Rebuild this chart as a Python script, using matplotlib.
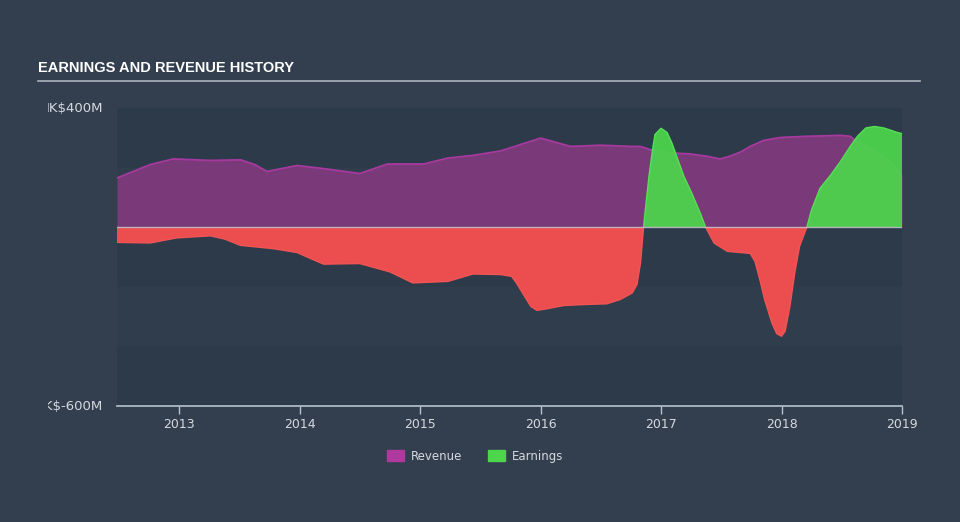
import numpy as np
import matplotlib
matplotlib.use("Agg")
import matplotlib.pyplot as plt
from matplotlib.transforms import Bbox

# values in millions, dates as decimal years
rev_t = [2012.485, 2012.76, 2012.95, 2013.26, 2013.51, 2013.63, 2013.73, 2013.98,
         2014.23, 2014.50, 2014.73, 2015.03, 2015.23, 2015.44, 2015.67, 2015.77,
         2016.00, 2016.25, 2016.50, 2016.75, 2016.83, 2016.91, 2017.08, 2017.24,
         2017.38, 2017.49, 2017.57, 2017.66, 2017.74, 2017.85, 2017.99, 2018.21,
         2018.49, 2018.57, 2018.61, 2018.77, 2018.88, 2019.00]
revenue = [165, 210, 229, 224, 226, 210, 187, 207,
           195, 180, 212, 212, 232, 241, 256, 269,
           299, 271, 275, 271, 271, 260, 249, 246,
           238, 229, 238, 252, 271, 291, 301, 305,
           308, 305, 291, 260, 227, 176]

earn_t = [2012.485, 2012.76, 2012.98, 2013.26, 2013.38, 2013.51, 2013.78, 2013.98,
          2014.09, 2014.20, 2014.50, 2014.75, 2014.94, 2015.23, 2015.44, 2015.67,
          2015.76, 2015.80, 2015.86, 2015.92, 2015.97, 2016.05, 2016.19, 2016.33,
          2016.55, 2016.66, 2016.76, 2016.80, 2016.83, 2016.855, 2016.87, 2016.90,
          2016.93, 2016.95, 2017.00, 2017.05, 2017.09, 2017.13, 2017.19, 2017.26,
          2017.33, 2017.37, 2017.44, 2017.55, 2017.74, 2017.78, 2017.82, 2017.86,
          2017.92, 2017.96, 2018.00, 2018.03, 2018.07, 2018.11, 2018.15, 2018.21,
          2018.25, 2018.32, 2018.41, 2018.49, 2018.57, 2018.63, 2018.70, 2018.77,
          2018.85, 2018.96, 2019.00]
earnings = [-51, -53, -36, -29, -40, -61, -72, -85,
            -105, -124, -122, -150, -187, -182, -157, -159,
            -165, -187, -227, -266, -279, -274, -263, -260,
            -257, -243, -221, -193, -120, 0, 59, 171,
            261, 311, 332, 318, 283, 238, 171, 110,
            43, 0, -53, -81, -88, -115, -176, -243,
            -321, -357, -366, -349, -265, -153, -64, 0,
            59, 131, 176, 221, 271, 305, 333, 338,
            333, 318, 314]

years = [2013, 2014, 2015, 2016, 2017, 2018, 2019]
y_labels = {400: "HK$400M", -600: "HK$-600M"}

bg = "#333f4f"
band_dark = "#2d3a4a"
rev_fill = "#7a3978"
rev_line = "#a8399f"
green = "#4cd64c"
red = "#ec4d4f"
text_col = "#d5d9de"

fig = plt.figure(figsize=(9.6, 5.22), dpi=100, facecolor=bg)
ax = fig.add_axes([117/960, 1-406/522, 785/960, 298/522])
ax.set_facecolor(bg)

ax.set_xlim(2012.485, 2019.0)
ax.set_ylim(-600, 400)

# background bands
for lo, hi in [(200, 400), (-200, 0), (-600, -400)]:
    ax.axhspan(lo, hi, color=band_dark, lw=0, zorder=0)
for lo, hi in [(0, 200), (-400, -200)]:
    ax.axhspan(lo, hi, color="#303d4d", lw=0, zorder=0)

# revenue
rt = np.array(rev_t)
rv = np.array(revenue)
ax.fill_between(rt, 0, rv, color=rev_fill, lw=0, zorder=2)
ax.plot(rt, rv, color=rev_line, lw=1.3, zorder=3)

# earnings
et = np.array(earn_t)
ev = np.array(earnings)
ax.fill_between(et, 0, ev, where=ev >= 0, interpolate=True, color=green, alpha=0.93, lw=0, zorder=4)
ax.fill_between(et, 0, ev, where=ev <= 0, interpolate=True, color=red, lw=0, zorder=4)
ax.plot(et, np.where(ev >= 0, ev, np.nan), color="#55e055", lw=1, zorder=5)
ax.plot(et, np.where(ev <= 0, ev, np.nan), color="#f05555", lw=1, zorder=5)

ax.axhline(0, color="#c8ccd2", lw=1, alpha=0.8, zorder=6)

for s in ["top", "left", "right"]:
    ax.spines[s].set_visible(False)
ax.spines["bottom"].set_color("#b8c2cf")
ax.spines["bottom"].set_linewidth(1.2)

ax.set_xticks(years)
ax.set_xticklabels([str(y) for y in years])
ax.tick_params(axis="x", colors="#b8c2cf", length=6, width=1, labelcolor=text_col,
               labelsize=9, pad=3)
ax.set_yticks([])

# y labels, cut off at the left edge like the original
for val, lab in y_labels.items():
    t = ax.text(-14/785, val, lab, transform=ax.get_yaxis_transform(), ha="right",
                va="center", color=text_col, fontsize=9.5)
    t.set_clip_box(Bbox.from_extents(47.5, 0, 960, 522))
    t.set_clip_on(True)

# title
fig.text(38/960, 1-68/522, "EARNINGS AND REVENUE HISTORY", color="white",
         fontsize=10.5, fontweight="bold", va="center",
         family=["Liberation Sans", "DejaVu Sans"])
fig.add_artist(plt.Line2D([38/960, 920/960], [1-81/522, 1-81/522],
                          color="#aab2bd", lw=1.2, transform=fig.transFigure))

# legend
handles = [plt.Rectangle((0, 0), 1, 1, color="#b0399f"),
           plt.Rectangle((0, 0), 1, 1, color=green)]
leg = fig.legend(handles, ["Revenue", "Earnings"], loc="center",
                 bbox_to_anchor=(475/960, 1-456/522), ncol=2, frameon=False,
                 fontsize=8.5, handlelength=1.4, handleheight=1.1,
                 columnspacing=2.2, handletextpad=0.6)
for txt in leg.get_texts():
    txt.set_color(text_col)

fig.savefig("out.png", dpi=100, facecolor=bg)
